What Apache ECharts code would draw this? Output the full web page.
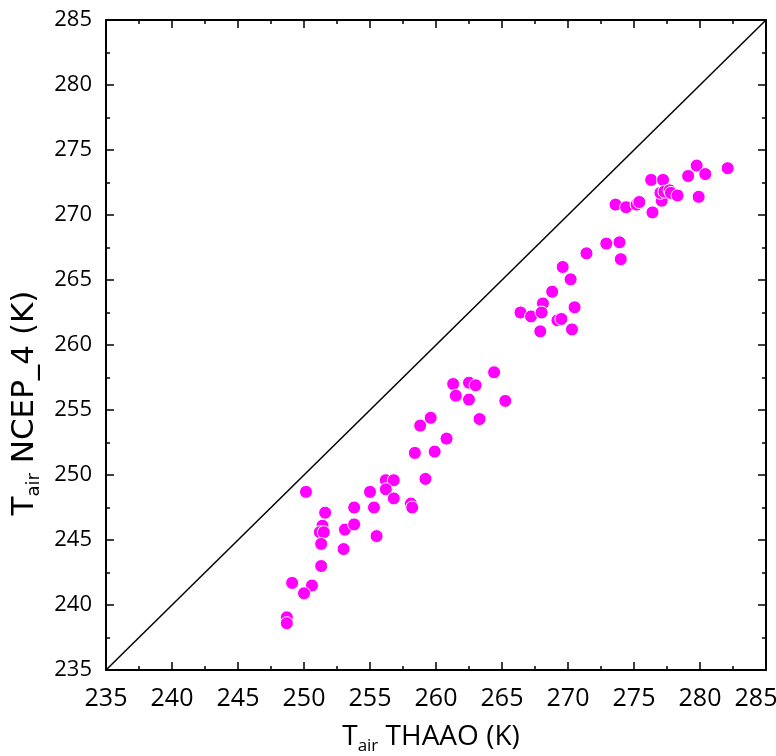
<!DOCTYPE html>
<html><head><meta charset="utf-8">
<script src="https://cdn.jsdelivr.net/npm/echarts@6/dist/echarts.min.js"></script>
<style>html,body{margin:0;padding:0;background:#fff;overflow:hidden;width:776px;height:756px}#c{width:776px;height:756px;display:block}</style>
</head><body><div id="c"></div>
<script>
const thaao = [250.15,251.6,251.4,251.2,251.5,251.3,251.3,249.1,250.6,250.0,248.7,248.7,253.1,253.0,253.8,253.8,255.0,255.3,255.5,256.2,256.8,256.2,256.8,258.1,258.2,259.2,264.4,261.3,262.5,263.0,261.5,262.5,265.25,263.3,259.6,258.8,260.8,258.4,259.9,273.6,274.4,275.2,275.4,277.1,276.4,272.9,273.9,274.0,271.4,269.6,270.2,268.8,268.1,266.4,267.2,268.0,270.5,269.2,269.5,267.9,270.3,276.3,277.2,277.0,277.3,277.7,277.8,278.3,279.1,279.75,280.4,279.9,282.1];
const ncep = [248.7,247.1,246.1,245.6,245.6,244.7,243.0,241.7,241.5,240.9,239.05,238.6,245.8,244.3,247.5,246.2,248.7,247.5,245.3,249.6,249.6,248.9,248.2,247.8,247.5,249.7,257.9,257.0,257.1,256.9,256.1,255.8,255.7,254.3,254.4,253.8,252.8,251.7,251.8,270.8,270.6,270.8,271.0,271.1,270.2,267.8,267.9,266.6,267.05,266.0,265.05,264.1,263.2,262.5,262.2,262.5,262.9,261.9,262.0,261.05,261.2,272.7,272.7,271.7,271.8,271.9,271.7,271.5,273.0,273.8,273.15,271.4,273.6];
const axisMin = 235, axisMax = 285, axisStep = 5;
const oneToOne = [[235,235],[285,285]];
const xTitle = ['T','air',' THAAO (K)'];
const yTitle = ['T','air',' NCEP_4 (K)'];

const chart = echarts.init(document.getElementById('c'), null, {renderer:'canvas'});
const lineStyle = {color:'#000', width:2};
const tickBase = {show:true, inside:true, length:8, lineStyle:{color:'#000', width:1.5}};
const minorBase = {show:true, splitNumber:2, length:4, lineStyle:{color:'#000', width:1.5}};
const richX = {
  a:{fontFamily:'Open Sans', fontSize:28, color:'#000'},
  s:{fontFamily:'Open Sans', fontSize:17, color:'#000', padding:[18,0,0,0]}
};
const richY = {
  a:{fontFamily:'DejaVu Sans', fontSize:31, color:'#000'},
  s:{fontFamily:'DejaVu Sans', fontSize:18, color:'#000', padding:[19,0,0,0]}
};
const xLabRich = {
  n:{fontFamily:'Open Sans', fontSize:25, color:'#000'},
  m:{fontFamily:'Open Sans', fontSize:25, color:'#000', padding:[0,20,0,0]}
};
function axisCommon(extra){
  return Object.assign({
    type:'value', min:axisMin, max:axisMax, interval:axisStep,
    axisLine:{show:true, onZero:false, lineStyle},
    axisTick:tickBase, minorTick:minorBase,
    splitLine:{show:false}, minorSplitLine:{show:false}
  }, extra);
}
chart.setOption({
  animation:false,
  backgroundColor:'#fff',
  grid:{left:106, top:20, width:660, height:650, containLabel:false, outerBoundsMode:'none'},
  xAxis:[
    axisCommon({position:'bottom',
      axisLabel:{margin:16, rich:xLabRich,
        formatter:(v)=> v === axisMax ? '{m|'+v+'}' : '{n|'+v+'}'},
      name:'{a|'+xTitle[0]+'}{s|'+xTitle[1]+'}{a|'+xTitle[2]+'}', nameLocation:'middle', nameGap:50,
      nameTextStyle:{rich:richX, padding:[0,10,0,0]}}),
    axisCommon({position:'top', axisLabel:{show:false}})
  ],
  yAxis:[
    axisCommon({position:'left',
      axisLabel:{margin:14, fontFamily:'Open Sans', fontSize:22, color:'#000'},
      name:'{a|'+yTitle[0]+'}{s|'+yTitle[1]+'}{a|'+yTitle[2]+'}', nameLocation:'middle', nameGap:62, nameRotate:90,
      nameTextStyle:{rich:richY, padding:[0,116,0,0]}}),
    axisCommon({position:'right', axisLabel:{show:false}})
  ],
  series:[
    {type:'line', data:oneToOne, symbol:'none', lineStyle:{color:'#000', width:1.5}, silent:true, z:1},
    {type:'scatter', data:thaao.map((v,i)=>[v, ncep[i]]), symbolSize:13,
     itemStyle:{color:'#ff00ff', borderColor:'#fff', borderWidth:1, opacity:1}, z:2}
  ]
});
</script></body></html>
